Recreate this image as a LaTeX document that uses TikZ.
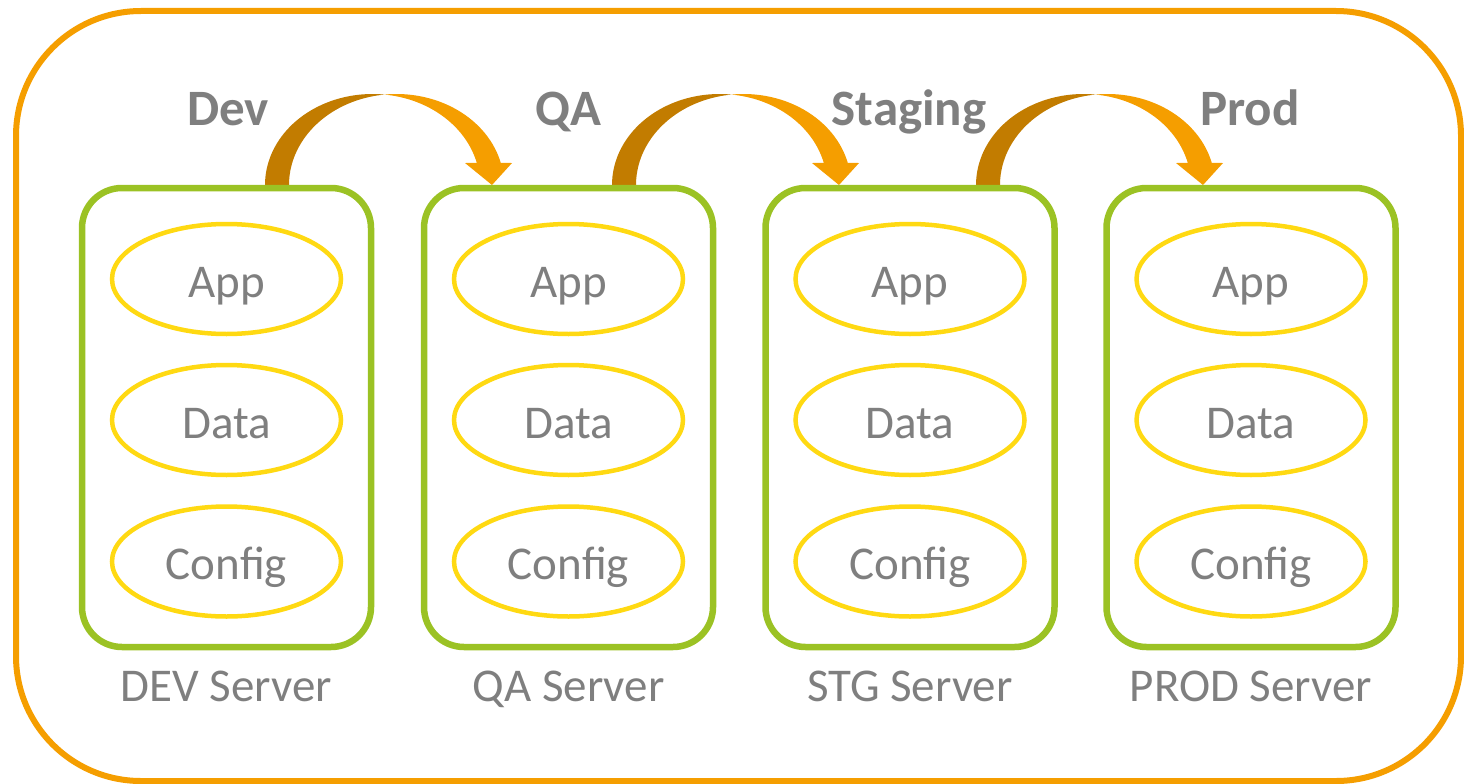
\documentclass[tikz,border=0pt]{standalone}
\usepackage{fontspec}
\setmainfont{Carlito}
\usetikzlibrary{shapes.geometric}

\definecolor{frameorange}{RGB}{245,158,0}
\definecolor{arrowdark}{RGB}{194,124,0}
\definecolor{arrowlight}{RGB}{245,158,0}
\definecolor{servergreen}{RGB}{155,194,36}
\definecolor{partyellow}{RGB}{255,217,18}
\definecolor{labelgray}{RGB}{127,127,127}

\tikzset{
  frame/.style={draw=frameorange, line width=6pt, rounded corners=125pt},
  serverbox/.style={draw=servergreen, line width=6.5pt, rounded corners=40pt,
    rectangle, minimum width=289pt, minimum height=459pt, inner sep=0pt},
  part/.style={draw=partyellow, line width=4.5pt, ellipse, minimum width=229pt,
    minimum height=110pt, inner sep=0pt, text=labelgray,
    font=\fontsize{47}{47}\selectfont, text height=36pt, text depth=0pt},
  servername/.style={anchor=base, text=labelgray, font=\fontsize{47}{47}\selectfont, inner sep=0pt},
  stagename/.style={anchor=base, text=labelgray, font=\fontsize{51}{51}\selectfont\bfseries, inner sep=0pt},
}

% curved promotion arrow: two offset half-ellipses, dark back half and light front half
\newcommand\promotearrow[1]{%
  \begin{scope}[xshift=#1]
    \fill[arrowdark]
      plot[domain=180:276.4, samples=40] ({372.5+107.5*cos(\x)},{185+91*sin(\x)})
      -- plot[domain=263.6:180, samples=40] ({396.5+107.5*cos(\x)},{185+91*sin(\x)})
      -- cycle;
    \fill[arrowlight]
      plot[domain=263.6:346, samples=40] ({396.5+107.5*cos(\x)},{185+91*sin(\x)})
      -- (512,163) -- (492,185) -- (465,163)
      -- plot[domain=346:276.4, samples=40] ({372.5+107.5*cos(\x)},{185+91*sin(\x)})
      -- cycle;
  \end{scope}}

\begin{document}
\begin{tikzpicture}[x=1pt, y=-1pt]
  \useasboundingbox (0,0) rectangle (1464,784);

  % outer frame
  \draw[frame] (16,11) rectangle (1461,781);

  % arrows between the environments
  \promotearrow{0pt}
  \promotearrow{347pt}
  \promotearrow{711pt}

  % stage titles
  \node[stagename] (tdev) at (228,125) {Dev};
  \node[stagename] (tqa) at (568,125) {QA};
  \node[stagename] (tstg) at (909,125) {Staging};
  \node[stagename] (tprod) at (1250,125) {Prod};

  % servers
  \foreach \cx/\nm/\lbl in {226.5/dev/DEV Server, 568.5/qa/QA Server, 910/stg/STG Server, 1251/prod/PROD Server}{
    \node[serverbox] (\nm) at (\cx,417.5) {};
    \node[part] (\nm app) at (\cx,279) {App};
    \node[part] (\nm data) at (\cx,420) {Data};
    \node[part] (\nm cfg) at (\cx,561.5) {Config};
    \node[servername] (\nm lbl) at (\cx,701) {\lbl};
  }
\end{tikzpicture}
\end{document}
